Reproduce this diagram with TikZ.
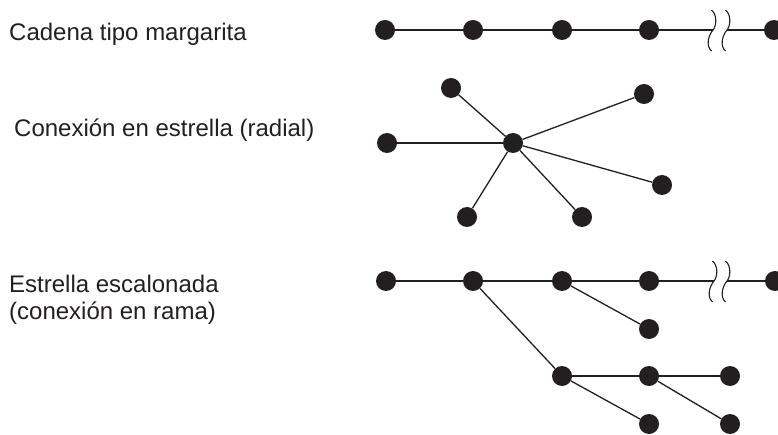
\documentclass[tikz,border=0pt]{standalone}
\usepackage{fontspec}
\setmainfont{Liberation Sans}
\usetikzlibrary{calc}
\definecolor{ink}{HTML}{231F20}

\begin{document}
\begin{tikzpicture}[x=1pt, y=-1pt,
    dot/.style={circle, fill=ink, minimum size=20pt, inner sep=0pt},
    wire/.style={draw=ink, line width=1.3pt},
    lbl/.style={font=\fontsize{24}{27}\selectfont, text=ink, inner sep=0pt, align=left},
    brkwave/.pic={\draw[ink, line width=1.1pt] (-1.5,-20) .. controls (4.5,-15) and (3.5,-4) .. (0,0) .. controls (-4.5,5) and (-7.5,16) .. (-1.5,21);}
]
\useasboundingbox (0,0) rectangle (778,435);

% labels
\node[lbl, anchor=base west] (dcl) at (9,41) {Cadena tipo margarita};
\node[lbl, anchor=base west] (scl) at (14,137) {Conexión en estrella (radial)};
\node[lbl, anchor=north west] (bcl) at (9,275) {Estrella escalonada\\(conexión en rama)};

% daisy chain
\node[dot] (d1) at (385,30) {};
\node[dot] (d2) at (473,30) {};
\node[dot] (d3) at (562,30) {};
\node[dot] (d4) at (649,30) {};
\coordinate (da) at (713,30);
\coordinate (db) at (727,30);
\node[dot] (d5) at (774,30) {};
\draw[wire] (d1) -- (d2) -- (d3) -- (d4) -- (da);
\draw[wire] (db) -- (d5);
\pic at (da) {brkwave};
\pic at (db) {brkwave};

% star
\node[dot] (hub) at (513,143) {};
\node[dot] (s1) at (451,88) {};
\node[dot] (s2) at (387,143) {};
\node[dot] (s3) at (644,94) {};
\node[dot] (s4) at (662,185) {};
\node[dot] (s5) at (467,217) {};
\node[dot] (s6) at (582,217) {};
\draw[wire] (hub) -- (s1);
\draw[wire] (hub) -- (s2);
\draw[wire] (hub) -- (s3);
\draw[wire] (hub) -- (s4);
\draw[wire] (hub) -- (s5);
\draw[wire] (hub) -- (s6);

% branched star
\node[dot] (b1) at (386,281) {};
\node[dot] (b2) at (473,281) {};
\node[dot] (b3) at (562,281) {};
\node[dot] (b4) at (649,281) {};
\coordinate (ba) at (714,281);
\coordinate (bb) at (727,281);
\node[dot] (b5) at (775,281) {};
\node[dot] (c1) at (649,329) {};
\node[dot] (e1) at (562,376) {};
\node[dot] (e2) at (649,376) {};
\node[dot] (e3) at (730,376) {};
\node[dot] (e4) at (649,424) {};
\node[dot] (e5) at (730,424) {};
\draw[wire] (b1) -- (b2) -- (b3) -- (b4) -- (ba);
\draw[wire] (bb) -- (b5);
\pic at (ba) {brkwave};
\pic at (bb) {brkwave};
\draw[wire] (b3) -- (c1);
\draw[wire] (b2) -- (e1);
\draw[wire] (e1) -- (e2) -- (e3);
\draw[wire] (e1) -- (e4);
\draw[wire] (e2) -- (e5);
\end{tikzpicture}
\end{document}
